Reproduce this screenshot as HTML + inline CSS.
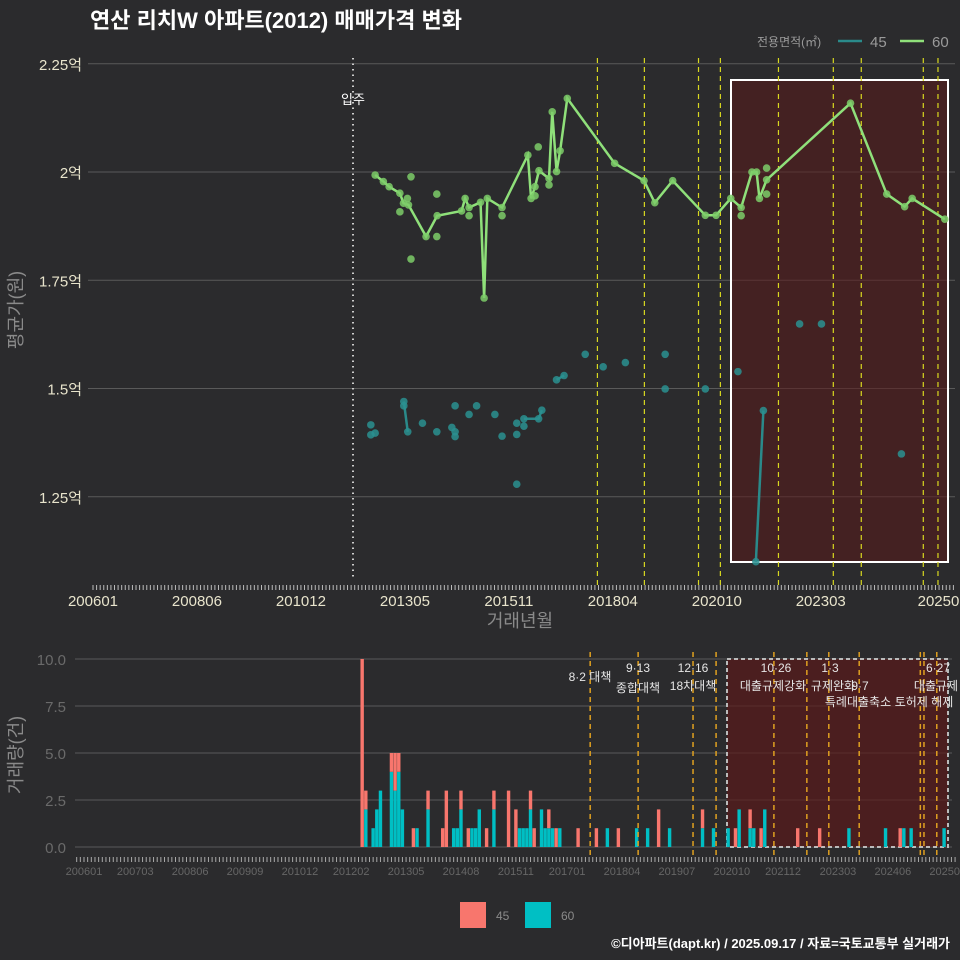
<!DOCTYPE html>
<html><head><meta charset="utf-8"><style>
body{margin:0;background:#2b2b2d;}
svg{display:block;font-family:"Liberation Sans","Noto Sans CJK KR",sans-serif;}
</style></head><body>
<svg id="c" width="960" height="960" xmlns="http://www.w3.org/2000/svg">
<rect width="960" height="960" fill="#2b2b2d"/>
<text x="90" y="28" font-size="22" font-weight="bold" fill="#ffffff">연산 리치W 아파트(2012) 매매가격 변화</text>
<g>
<text x="757" y="46" font-size="12" fill="#9a9a9a">전용면적(㎡)</text>
<line x1="838" y1="41" x2="862" y2="41" stroke="#2a8a8a" stroke-width="2.5"/>
<text x="870" y="47" font-size="15" fill="#9a9a9a">45</text>
<line x1="900" y1="41" x2="924" y2="41" stroke="#8fe07a" stroke-width="2.5"/>
<text x="932" y="47" font-size="15" fill="#9a9a9a">60</text>
</g>
<text transform="translate(22,310) rotate(-90)" text-anchor="middle" font-size="18" fill="#8a8a8a">평균가(원)</text>
<text x="520" y="627" text-anchor="middle" font-size="18" fill="#8a8a8a">거래년월</text>
<text transform="translate(22,755) rotate(-90)" text-anchor="middle" font-size="18" fill="#8a8a8a">거래량(건)</text>
<g>
<rect x="460" y="902" width="26" height="26" fill="#f8766d"/>
<text x="496" y="920" font-size="12" fill="#8a8a8a">45</text>
<rect x="525" y="902" width="26" height="26" fill="#00bfc4"/>
<text x="561" y="920" font-size="12" fill="#8a8a8a">60</text>
</g>
<text x="950" y="948" text-anchor="end" font-size="13" font-weight="bold" fill="#ffffff">©디아파트(dapt.kr) / 2025.09.17 / 자료=국토교통부 실거래가</text>
</svg>
<script>
const line60M=[78.7,81.0,82.6,85.6,86.6,88.0,92.9,96.0,102.8,103.8,104.9,108.1,109.1,110.0,114.1,121.3,122.2,123.3,124.4,127.2,128.1,129.3,130.3,132.3,145.5,153.7,156.7,161.7,170.8,173.8,177.9,180.8,183.8,185.1,185.9,187.9,211.3,221.4,226.4,228.5,237.6];
const line60V=[1.993,1.978,1.966,1.951,1.928,1.924,1.851,1.899,1.910,1.939,1.918,1.930,1.709,1.939,1.918,2.039,1.939,1.966,2.003,1.985,2.139,2.001,2.049,2.170,2.020,1.980,1.929,1.980,1.900,1.900,1.939,1.918,2.000,2.000,1.939,1.982,2.159,1.949,1.920,1.939,1.891];
const pts60M=[88.7,95.9,95.9,88.7,85.6,87.7,104.9,114.1,124.2,123.3,127.2,180.8,187.9,187.9];
const pts60V=[1.989,1.949,1.851,1.799,1.908,1.939,1.899,1.899,2.058,1.945,1.970,1.899,2.009,1.949];
const pts45M=[77.5,77.5,78.7,86.7,86.7,87.8,91.9,95.9,100.1,101.0,101.0,101.0,104.9,107.0,112.1,114.1,118.2,118.2,118.2,120.2,120.2,124.3,125.2,129.3,131.4,137.3,142.3,148.5,159.6,159.6,170.8,179.9,187.0,184.9,197.1,203.2,225.5];
const pts45V=[1.416,1.393,1.397,1.470,1.460,1.400,1.420,1.400,1.410,1.400,1.389,1.460,1.440,1.460,1.440,1.390,1.420,1.394,1.279,1.430,1.413,1.430,1.450,1.520,1.530,1.579,1.550,1.560,1.579,1.499,1.499,1.539,1.449,1.100,1.649,1.649,1.349];
const seg45M=[[86.7,87.8],[120.2,124.3,125.2],[129.3,131.4],[184.9,187.0]];
const seg45V=[[1.470,1.400],[1.430,1.430,1.450],[1.520,1.530],[1.100,1.449]];
const yTicks=[1.25,1.5,1.75,2,2.25];
const yTickLabels=["1.25억","1.5억","1.75억","2억","2.25억"];
const xTickM=[0,29,58,87,116,145,174,203,237];
const xTickLabels=["200601","200806","201012","201305","201511","201804","202010","202303","202508"];
const policyTopM=[140.7,153.8,168.9,175,191.2,206.5,214.3,231.6,235.7];
const volMonths=[76,77,79,80,81,84,85,86,87,90,91,94,98,99,101,102,103,105,106,107,108,110,112,116,118,119,120,121,122,123,125,126,127,128,129,130,135,140,143,146,151,154,157,160,169,172,176,178,179,182,183,185,186,195,201,209,219,223,224,226,235];
const vol45=[10,1,0,0,0,1,2,1,0,1,0,1,1,3,0,0,1,1,0,0,0,1,1,3,2,0,0,0,1,1,0,0,1,0,1,0,1,1,0,1,0,0,2,0,1,0,0,1,0,1,0,1,0,1,1,0,0,1,0,0,0];
const vol60=[0,2,1,2,3,4,3,4,2,0,1,2,0,0,1,1,2,0,1,1,2,0,2,0,0,1,1,1,2,0,2,1,1,1,0,1,0,0,1,0,1,1,0,1,1,1,1,0,2,1,1,0,2,0,0,1,1,0,1,1,1];
const volTicks=[0,2.5,5,7.5,10];
const volTickLabels=["0.0","2.5","5.0","7.5","10.0"];
const bxTickM=[0,14,29,44,59,73,88,103,118,132,147,162,177,191,206,221,236];
const bxTickLabels=["200601","200703","200806","200909","201012","201202","201305","201408","201511","201701","201804","201907","202010","202112","202303","202406","202509"];
const policyBotM=[138.3,151.4,166.4,172.7,188.5,197.5,203.5,211.8,228.5,229.5,233];
const policyLabels=[["8·2 대책",590,681],["9·13",638,672],["종합대책",638,692],["12·16",693,672],["18차대책",693,690],["10·26",776,672],["대출규제강화",773,690],["1·3",830,672],["규제완화",833,690],["9·7",860,690],["특례대출축소",858,706],["토허제 해제",924,706],["6·27",938,672],["대출규제",936,690]];

const NS="http://www.w3.org/2000/svg";
const svgEl=document.getElementById('c');
function mk(t,a,p){const e=document.createElementNS(NS,t);for(const k in a)e.setAttribute(k,a[k]);(p||svgEl).appendChild(e);return e;}
const X=m=>93+m*3.585;
const Y=v=>172-(v-2)*433;
const BX=m=>84+m*3.66;
const BY=v=>847-v*18.8;

const topG=mk('g',{});


yTicks.forEach((v,i)=>{
  const l=mk('line',{x1:88,x2:955,y1:Y(v),y2:Y(v),stroke:'#5a5a5a','stroke-width':1},topG);
  
  
  const t=mk('text',{x:82,y:Y(v)+6,'text-anchor':'end','font-size':15,fill:'#e8e4cc'},topG);
  t.textContent=yTickLabels[i];
  
  
});
const hl=mk('rect',{x:731,y:80,width:217,height:482,fill:'#5a1a1a','fill-opacity':0.55,stroke:'#ffffff','stroke-width':2},topG);


for(let m=0;m<=240;m++){const l=mk('line',{x1:X(m),x2:X(m),y1:585,y2:590,stroke:'#bbbbbb','stroke-width':1},topG);

}
xTickM.forEach((m,i)=>{const t=mk('text',{x:X(m),y:606,'text-anchor':'middle','font-size':15,fill:'#e8e4cc'},topG);t.textContent=xTickLabels[i];

});
const mv=mk('line',{x1:353,x2:353,y1:58,y2:580,stroke:'#cccccc','stroke-width':2,'stroke-dasharray':'1.5,4'},topG);


const mvt=mk('text',{x:353,y:104,'text-anchor':'middle','font-size':13,fill:'#ffffff'},topG);mvt.textContent='입주';


policyTopM.forEach(m=>{const l=mk('line',{x1:X(m),x2:X(m),y1:58,y2:585,stroke:'#d8d820','stroke-width':1.2,'stroke-dasharray':'5,4'},topG);

});
seg45M.forEach((s,j)=>{const p=mk('polyline',{points:s.map((m,i)=>X(m)+','+Y(seg45V[j][i])).join(' '),fill:'none',stroke:'#2a8a8a','stroke-width':2.5},topG);

});
pts45M.forEach((m,i)=>{const c=mk('circle',{cx:X(m),cy:Y(pts45V[i]),r:3.8,fill:'#2a9090','fill-opacity':0.85},topG);

});
const ln=mk('polyline',{points:line60M.map((m,i)=>X(m)+','+Y(line60V[i])).join(' '),fill:'none',stroke:'#8fe07a','stroke-width':2.5},topG);


line60M.forEach((m,i)=>{const c=mk('circle',{cx:X(m),cy:Y(line60V[i]),r:3.8,fill:'#7ccc68','fill-opacity':0.85},topG);

});
pts60M.forEach((m,i)=>{const c=mk('circle',{cx:X(m),cy:Y(pts60V[i]),r:3.8,fill:'#7ccc68','fill-opacity':0.85},topG);

});

const botG=mk('g',{});


volTicks.forEach((v,i)=>{
  const l=mk('line',{x1:75,x2:952,y1:BY(v),y2:BY(v),stroke:'#5a5a5a','stroke-width':1},botG);
  
  
  const t=mk('text',{x:66,y:BY(v)+6,'text-anchor':'end','font-size':15,fill:'#6a6a6a'},botG);t.textContent=volTickLabels[i];
  
  
});
const br=mk('rect',{x:727,y:659,width:221,height:188,fill:'#5a1a1a','fill-opacity':0.7,stroke:'#bbbbbb','stroke-width':2,'stroke-dasharray':'4,3'},botG);


volMonths.forEach((m,i)=>{
  const x=BX(m)-1.7;
  if(vol60[i]>0){const r=mk('rect',{x:x,y:BY(vol60[i]),width:3.4,height:vol60[i]*18.8,fill:'#00bfc4'},botG);
  
  }
  if(vol45[i]>0){const r=mk('rect',{x:x,y:BY(vol60[i]+vol45[i]),width:3.4,height:vol45[i]*18.8,fill:'#f8766d'},botG);
  
  }
});
policyBotM.forEach(m=>{const l=mk('line',{x1:BX(m),x2:BX(m),y1:652,y2:857,stroke:'#e0a020','stroke-width':1.5,'stroke-dasharray':'5,4'},botG);

});
policyLabels.forEach(p=>{const t=mk('text',{x:p[1],y:p[2],'text-anchor':'middle','font-size':12,fill:'#e6e6e6'},botG);t.textContent=p[0];

});
for(let m=-2;m<=238;m++){const l=mk('line',{x1:BX(m),x2:BX(m),y1:857,y2:862,stroke:'#aaaaaa','stroke-width':1},botG);

}
bxTickM.forEach((m,i)=>{const t=mk('text',{x:BX(m),y:875,'text-anchor':'middle','font-size':11,fill:'#666666'},botG);t.textContent=bxTickLabels[i];

});
</script>
</body></html>
